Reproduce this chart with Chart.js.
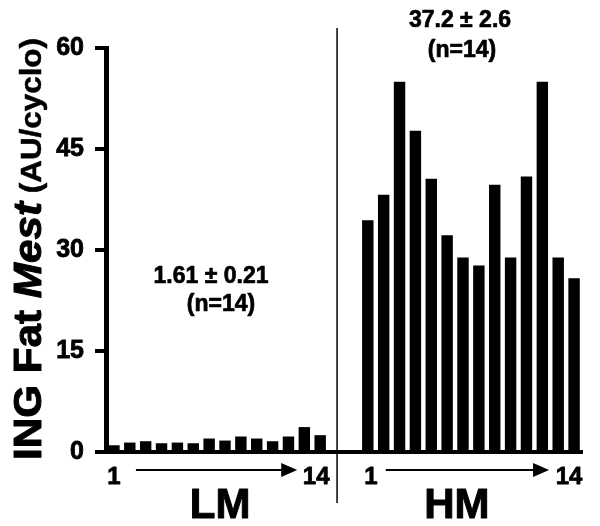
<!DOCTYPE html>
<html>
<head>
<meta charset="utf-8">
<script src="https://cdn.jsdelivr.net/npm/chart.js@4.4.1/dist/chart.umd.min.js"></script>
<style>
html,body{margin:0;padding:0;background:#fff;}
#wrap{width:600px;height:526px;position:relative;}
</style>
</head>
<body>
<div id="wrap"><canvas id="c" width="600" height="526"></canvas></div>
<script>
// ---- data ----
const lmLabels = ['LM1','LM2','LM3','LM4','LM5','LM6','LM7','LM8','LM9','LM10','LM11','LM12','LM13','LM14'];
const hmLabels = ['HM1','HM2','HM3','HM4','HM5','HM6','HM7','HM8','HM9','HM10','HM11','HM12','HM13','HM14'];
const gapLabels = ['gap1','gap2'];
const lmValues = [1.0, 1.4, 1.6, 1.3, 1.4, 1.3, 2.0, 1.7, 2.3, 2.0, 1.6, 2.3, 3.7, 2.5];
const hmValues = [34.4, 38.2, 55.0, 47.7, 40.6, 32.2, 28.9, 27.7, 39.7, 28.9, 40.9, 55.0, 28.9, 25.8];
const yTicks = [0, 15, 30, 45, 60];
const lmStats = ['1.61 \u00B1 0.21', '(n=14)'];
const hmStats = ['37.2 \u00B1 2.6', '(n=14)'];
const groupNames = ['LM', 'HM'];

const categories = lmLabels.concat(gapLabels, hmLabels);
const values = lmValues.concat(gapLabels.map(() => null), hmValues);

const FONT = '"Liberation Sans", Arial, Helvetica, sans-serif';

function arrow(ctx, x1, x2, y) {
  const head = 16, half = 7;
  ctx.beginPath();
  ctx.lineWidth = 2;
  ctx.moveTo(x1, y);
  ctx.lineTo(x2 - head + 1, y);
  ctx.stroke();
  ctx.beginPath();
  ctx.moveTo(x2, y);
  ctx.lineTo(x2 - head, y - half);
  ctx.lineTo(x2 - head, y + half);
  ctx.closePath();
  ctx.fill();
}

function heavyText(ctx, t, x, y, sw) {
  ctx.fillText(t, x, y);
  ctx.lineWidth = sw;
  ctx.strokeText(t, x, y);
}

const annot = {
  id: 'annot',
  afterDraw(chart) {
    const ctx = chart.ctx;
    const xs = chart.scales.x;
    ctx.save();
    ctx.fillStyle = '#000';
    ctx.strokeStyle = '#000';
    ctx.lineJoin = 'round';

    // divider between groups
    const nL = lmValues.length, nG = gapLabels.length;
    const divX = xs.getPixelForValue(nL);
    ctx.beginPath();
    ctx.lineWidth = 1.5;
    ctx.moveTo(divX + 1, 28);
    ctx.lineTo(divX + 1, 503);
    ctx.stroke();

    // stats annotations
    ctx.font = 'bold 23px ' + FONT;
    ctx.textAlign = 'center';
    ctx.textBaseline = 'alphabetic';
    heavyText(ctx, lmStats[0], 211, 283, 0.7);
    heavyText(ctx, lmStats[1], 221, 311, 0.7);
    heavyText(ctx, hmStats[0], 460, 27, 0.7);
    heavyText(ctx, hmStats[1], 462, 57, 0.7);

    // index labels and arrows
    const lmFirst = xs.getPixelForValue(0), lmLast = xs.getPixelForValue(nL - 1);
    const hmFirst = xs.getPixelForValue(nL + nG), hmLast = xs.getPixelForValue(nL + nG + hmValues.length - 1);
    ctx.font = 'bold 24px ' + FONT;
    heavyText(ctx, '1', lmFirst, 484, 0.8);
    heavyText(ctx, String(lmValues.length), lmLast - 4, 484, 0.8);
    heavyText(ctx, '1', hmFirst + 3, 484, 0.8);
    heavyText(ctx, String(hmValues.length), hmLast - 5, 484, 0.8);
    arrow(ctx, lmFirst + 22, lmLast - 23, 470);
    arrow(ctx, hmFirst + 18, hmLast - 25, 470);

    // group names
    ctx.font = 'bold 42px ' + FONT;
    heavyText(ctx, groupNames[0], (lmFirst + lmLast) / 2 + 3, 518, 1);
    heavyText(ctx, groupNames[1], (hmFirst + hmLast) / 2 - 14, 518, 1);

    // y axis title with mixed fonts
    const parts = [
      {t: 'ING Fat ', f: 'bold 39px ' + FONT, s: 1},
      {t: 'Mest', f: 'italic bold 39px ' + FONT, s: 1},
      {t: ' (AU/cyclo)', f: 'bold 29px ' + FONT, s: 0.5}
    ];
    let total = 0;
    parts.forEach(p => { ctx.font = p.f; p.w = ctx.measureText(p.t).width; total += p.w; });
    const yStart = 460, yEnd = 38;
    const sc = (yStart - yEnd) / total;
    ctx.translate(41, yStart);
    ctx.rotate(-Math.PI / 2);
    ctx.scale(sc, 1);
    ctx.textAlign = 'left';
    let x = 0;
    parts.forEach(p => { ctx.font = p.f; heavyText(ctx, p.t, x, 0, p.s); x += p.w; });
    ctx.restore();
  }
};

new Chart(document.getElementById('c'), {
  type: 'bar',
  data: {
    labels: categories,
    datasets: [{
      data: values,
      backgroundColor: '#000',
      borderWidth: 0,
      barPercentage: 0.72,
      categoryPercentage: 1.0
    }]
  },
  options: {
    responsive: false,
    devicePixelRatio: 1,
    animation: false,
    layout: { padding: { top: 48, right: 18, left: 0, bottom: 0 } },
    plugins: { legend: { display: false }, tooltip: { enabled: false } },
    scales: {
      x: {
        type: 'category',
        offset: true,
        grid: { display: false },
        ticks: { display: false },
        border: { display: true, color: '#000', width: 4 },
        afterFit(s) { s.height = 74; }
      },
      y: {
        min: 0, max: 60,
        afterBuildTicks(s) { s.ticks = yTicks.map(v => ({ value: v })); },
        ticks: { color: '#000', font: { family: FONT, size: 25, weight: 'bold' }, padding: 11,
                 textStrokeColor: '#000', textStrokeWidth: 0.8 },
        grid: { display: true, drawOnChartArea: false, drawTicks: true, tickLength: 11, color: '#000', lineWidth: 4 },
        border: { display: true, color: '#000', width: 5 },
        afterFit(s) { s.width = 106; }
      }
    }
  },
  plugins: [annot]
});
</script>
</body>
</html>
